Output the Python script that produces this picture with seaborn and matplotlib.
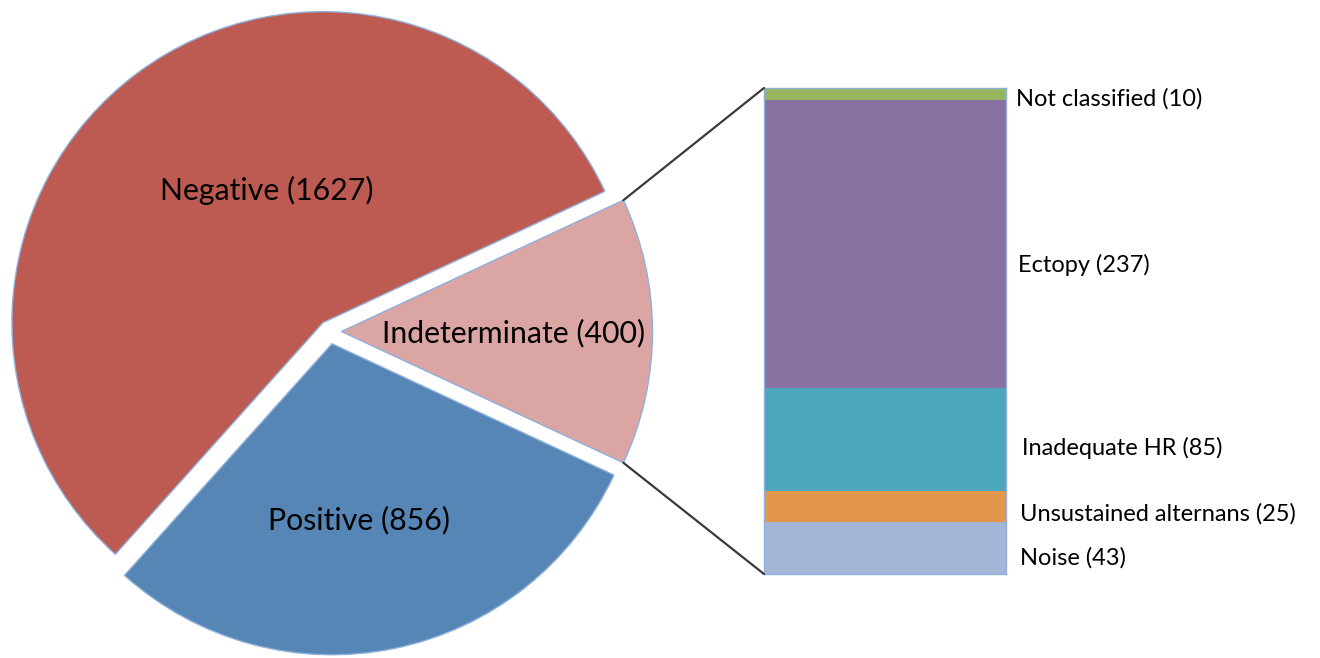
import matplotlib
matplotlib.use("Agg")
import matplotlib.pyplot as plt
from matplotlib.patches import ConnectionPatch
import numpy as np
import seaborn as sns

# ---- data ----
pie_labels = ["Indeterminate (400)", "Negative (1627)", "Positive (856)"]
pie_values = [400, 1627, 856]
pie_colors = ["#DAA5A3", "#BD5B52", "#5586B6"]

bar_labels = ["Noise (43)", "Unsustained alternans (25)", "Inadequate HR (85)",
              "Ectopy (237)", "Not classified (10)"]
bar_values = [43, 25, 85, 237, 10]
bar_colors = ["#A4B6D7", "#E4974C", "#4CA7BE", "#8870A1", "#98B560"]

sns.set_theme(style="white")
plt.rcParams["font.family"] = ["Lato", "DejaVu Sans"]

W, H = 1320, 658
fig = plt.figure(figsize=(W / 100, H / 100), dpi=100)
ax = fig.add_axes([0, 0, 1, 1])
ax.set_xlim(0, W)
ax.set_ylim(0, H)
ax.set_aspect("equal")
ax.axis("off")

cx, cy = 329.5, H - 331.5
R = 311
total = sum(pie_values)
start = -pie_values[0] / total * 360 / 2
# explode is in data units here (pixels), since radius != 1
wedges, _ = ax.pie(pie_values, colors=pie_colors, startangle=start, counterclock=True,
                   center=(cx, cy), radius=R, explode=[12, 11, 12.5],
                   wedgeprops=dict(edgecolor="#8FB0DA", linewidth=1.0))
ax.set_xlim(0, W)
ax.set_ylim(0, H)

# pie labels (pixel positions, y from top)
pie_text_pos = [(514, 333), (267, 190), (359, 520)]
for lab, (x, y) in zip(pie_labels, pie_text_pos):
    ax.text(x, H - y, lab, ha="center", va="center", fontsize=21.8, color="black")

# ---- stacked bar ----
bx = fig.add_axes([764 / W, (H - 574) / H, 242 / W, 486 / H])
bottom = 0
for v, c in zip(bar_values, bar_colors):
    bx.bar(0, v, bottom=bottom, width=1.0, color=c, edgecolor="none")
    bottom += v
bx.set_xlim(-0.5, 0.5)
bx.set_ylim(0, sum(bar_values))
for s in bx.spines.values():
    s.set_visible(True)
    s.set_color("#8FB0DA")
    s.set_linewidth(1.0)
bx.set_xticks([])
bx.set_yticks([])

label_pos = [(1020, 558), (1020, 514), (1022, 448), (1018, 265), (1016, 99)]
for lab, (x, y) in zip(bar_labels, label_pos):
    fig.text(x / W, 1 - y / H, lab, ha="left", va="center", fontsize=17, color="black")

# connecting lines from indeterminate wedge corners to bar corners
w = wedges[0]
(wx, wy) = w.center
for ang, ycorner in [(w.theta2, sum(bar_values)), (w.theta1, 0)]:
    p = (wx + w.r * np.cos(np.radians(ang)), wy + w.r * np.sin(np.radians(ang)))
    con = ConnectionPatch(xyA=p, coordsA=ax.transData, xyB=(-0.5, ycorner),
                          coordsB=bx.transData, color="#3a3a3a", linewidth=1.6)
    fig.add_artist(con)

fig.savefig("out.png", dpi=100, facecolor="white")
